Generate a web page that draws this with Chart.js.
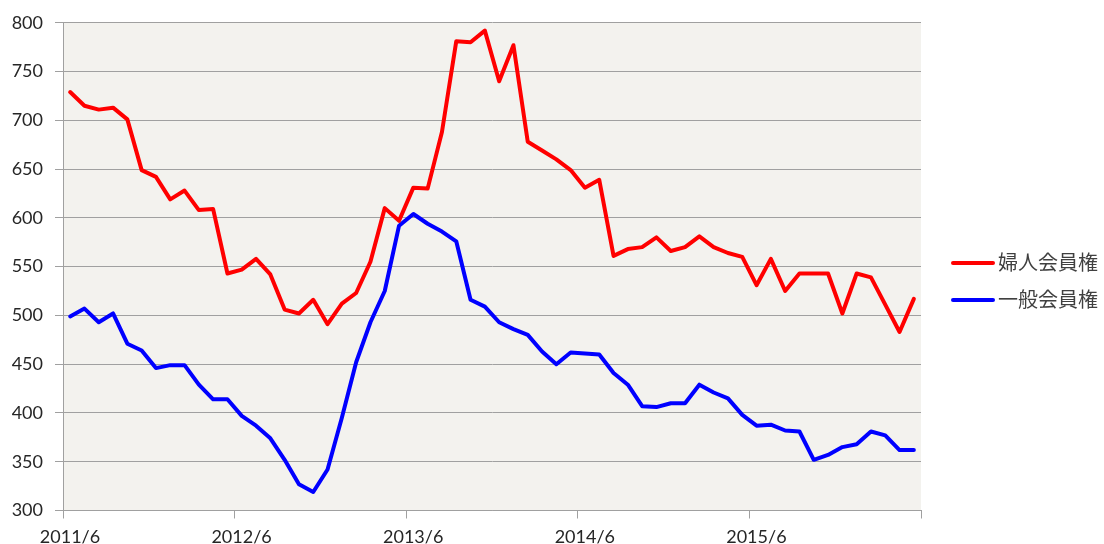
<!DOCTYPE html>
<html>
<head>
<meta charset="utf-8">
<script src="https://cdn.jsdelivr.net/npm/chart.js@4/dist/chart.umd.min.js"></script>
<style>
  html, body { margin: 0; padding: 0; background: #ffffff; }
  #wrap { width: 1104px; height: 544px; }
</style>
</head>
<body>
<div id="wrap"><canvas id="c" width="1104" height="544"></canvas></div>
<script>
// ---- data ----
const tickLabels = ['2011/6', '2012/6', '2013/6', '2014/6', '2015/6'];
const monthsPerTick = 12;
const seriesNames = ['婦人会員権', '一般会員権'];
const fujin = [729,715,711,713,701,649,642,619,628,608,609,543,547,558,542,506,502,516,491,512,
               523,555,610,597,631,630,688,781,780,792,740,777,678,669,660,649,631,639,561,568,
               570,580,566,570,581,570,564,560,531,558,525,543,543,543,502,543,539,511,483,517];
const ippan = [499,507,493,502,471,464,446,449,449,429,414,414,397,387,374,352,327,319,342,395,
               452,493,525,592,604,594,586,576,516,509,493,486,480,463,450,462,461,460,441,429,
               407,406,410,410,429,421,415,398,387,388,382,381,352,357,365,368,381,377,362,362];
const seriesColors = ['#ff0000', '#0000ff'];

const toPoints = arr => arr.map((v, i) => ({ x: i + 0.5, y: v }));

const plotBg = {
  id: 'plotBg',
  beforeDraw(chart) {
    const { ctx, chartArea: a } = chart;
    ctx.save();
    ctx.fillStyle = '#f3f2ee';
    ctx.fillRect(a.left, a.top, a.right - a.left, a.bottom - a.top);
    ctx.restore();
  }
};

const sideLegend = {
  id: 'sideLegend',
  afterDraw(chart) {
    const { ctx } = chart;
    const rows = [263, 300];
    ctx.save();
    chart.data.datasets.forEach((ds, i) => {
      const y = rows[i];
      ctx.strokeStyle = ds.borderColor;
      ctx.lineWidth = 4;
      ctx.lineCap = 'round';
      ctx.beginPath();
      ctx.moveTo(953, y);
      ctx.lineTo(993, y);
      ctx.stroke();
      ctx.fillStyle = '#404040';
      ctx.font = '20px "Noto Sans CJK JP"';
      ctx.textBaseline = 'middle';
      ctx.textAlign = 'left';
      ctx.fillText(ds.label, 998, y - 1);
    });
    ctx.restore();
  }
};

new Chart(document.getElementById('c'), {
  type: 'line',
  data: {
    datasets: [
      { label: seriesNames[0], data: toPoints(fujin), borderColor: seriesColors[0], backgroundColor: seriesColors[0],
        borderWidth: 4, pointRadius: 0, tension: 0, borderJoinStyle: 'round', borderCapStyle: 'round' },
      { label: seriesNames[1], data: toPoints(ippan), borderColor: seriesColors[1], backgroundColor: seriesColors[1],
        borderWidth: 4, pointRadius: 0, tension: 0, borderJoinStyle: 'round', borderCapStyle: 'round' }
    ]
  },
  options: {
    responsive: false,
    animation: false,
    devicePixelRatio: 1,
    layout: { padding: { top: 22, right: 183, left: 0, bottom: 0 } },
    plugins: { legend: { display: false }, tooltip: { enabled: false } },
    scales: {
      x: {
        type: 'linear',
        min: 0,
        max: fujin.length,
        afterFit(s) { s.height = 33.5; },
        ticks: {
          stepSize: monthsPerTick,
          autoSkip: false,
          maxRotation: 0,
          labelOffset: 7,
          padding: 8,
          color: '#262626',
          font: { family: 'Lato', size: 18 },
          callback: v => tickLabels[v / monthsPerTick] ?? ''
        },
        grid: { drawOnChartArea: false, drawTicks: true, tickLength: 8, color: '#a0a0a0', lineWidth: 1 },
        border: { color: '#a0a0a0', width: 1 }
      },
      y: {
        min: 300,
        max: 800,
        afterFit(s) { s.width = 63; },
        ticks: {
          stepSize: 50,
          padding: 12,
          color: '#262626',
          font: { family: 'Lato', size: 18 }
        },
        grid: { color: '#a0a0a0', lineWidth: 1, tickLength: 8 },
        border: { color: '#a0a0a0', width: 1 }
      }
    }
  },
  plugins: [plotBg, sideLegend]
});
</script>
</body>
</html>
